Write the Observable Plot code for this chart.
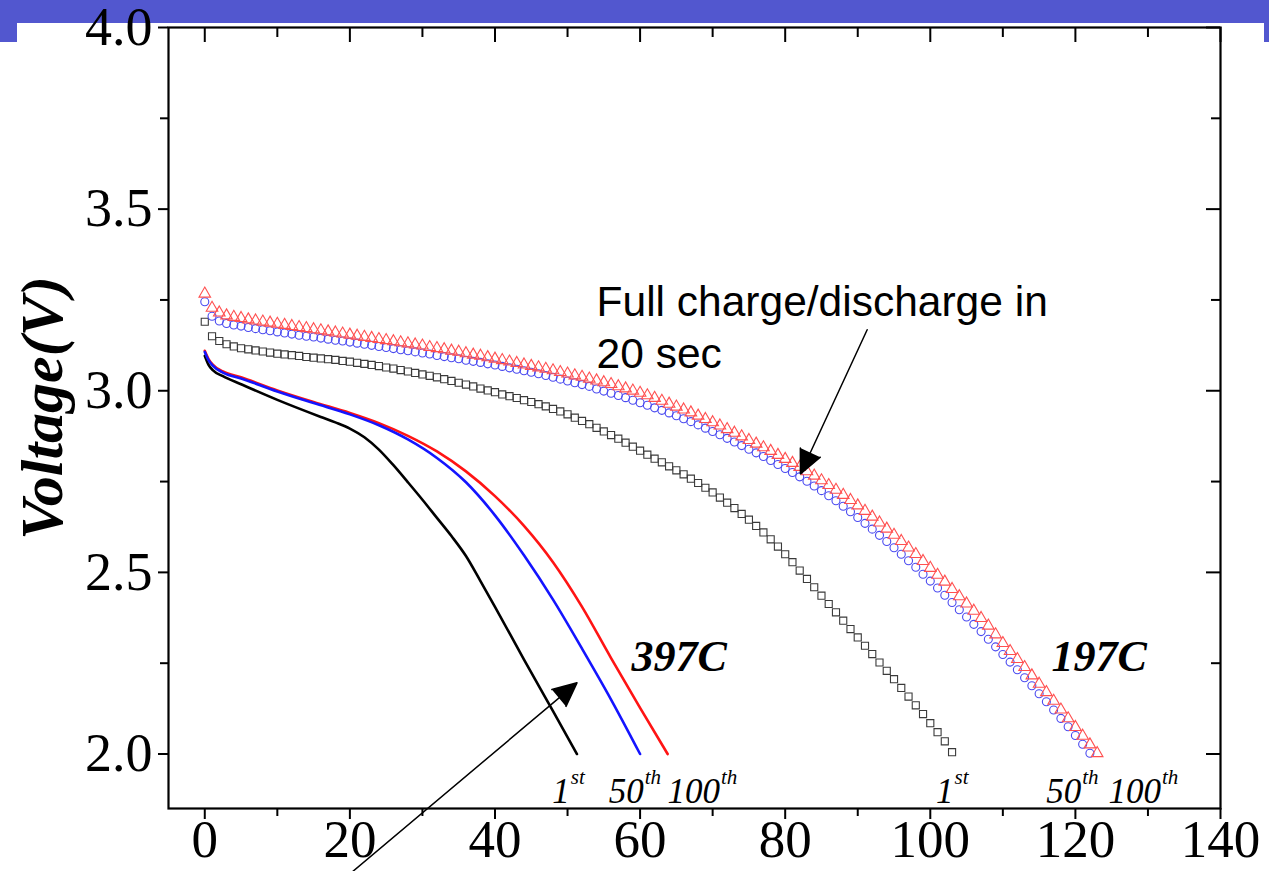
<!DOCTYPE html>
<html><head><meta charset="utf-8">
<script src="https://cdn.jsdelivr.net/npm/d3@7"></script>
<script src="https://cdn.jsdelivr.net/npm/@observablehq/plot@0.6"></script>
<style>
html,body{margin:0;padding:0;background:#fff;}
#wrap{position:relative;width:1269px;height:871px;overflow:hidden;background:#fff;}
.band{position:absolute;background:#5257cf;}
#chart{position:absolute;left:0;top:0;}
</style></head><body>
<div id="wrap">
<div class="band" style="left:0;top:0;width:1269px;height:23px"></div>
<div class="band" style="left:0;top:0;width:17px;height:42px"></div>
<div class="band" style="left:1264px;top:0;width:5px;height:42px"></div>
<div id="chart"></div>
</div>
<script>
// ---- tick values ----
const xMajor = [0, 20, 40, 60, 80, 100, 120, 140];
const xMinor = [10, 30, 50, 70, 90, 110, 130];
const yMajor = [2.0, 2.5, 3.0, 3.5, 4.0];
const yMinor = [2.25, 2.75, 3.25, 3.75];

// ---- 397C (lines) ----
const x397_1st = [0, 0.5, 1.1, 2.5, 5, 10, 16, 18, 20, 22, 24, 26, 28, 30, 32, 34, 36, 38, 40, 44, 48, 51.3];
const y397_1st = [3.096, 3.072, 3.057, 3.040, 3.018, 2.975, 2.928, 2.913, 2.896, 2.872, 2.838, 2.795, 2.748, 2.700, 2.650, 2.600, 2.545, 2.476, 2.405, 2.260, 2.118, 2.0];
const x397_50th = [0, 0.5, 1.1, 2.5, 5, 10, 15, 20, 24, 28, 32, 36, 40, 44, 48, 52, 56, 60];
const y397_50th = [3.107, 3.085, 3.069, 3.050, 3.034, 2.998, 2.966, 2.935, 2.905, 2.866, 2.815, 2.748, 2.657, 2.547, 2.425, 2.290, 2.150, 2.0];
const x397_100th = [0, 0.5, 1.1, 2.5, 5, 10, 15, 20, 24, 28, 32, 36, 40, 44, 48, 52, 56, 60, 63.8];
const y397_100th = [3.110, 3.088, 3.072, 3.053, 3.037, 3.001, 2.969, 2.939, 2.911, 2.876, 2.833, 2.778, 2.710, 2.628, 2.528, 2.405, 2.264, 2.127, 2.0];

// ---- 197C (markers), one reading per unit of x ----
const t197 = [0,1,2,3,4,5,6,7,8,9,10,11,12,13,14,15,16,17,18,19,20,21,22,23,24,25,26,27,28,29,30,31,32,33,34,35,36,37,38,39,40,41,42,43,44,45,46,47,48,49,50,51,52,53,54,55,56,57,58,59,60,61,62,63,64,65,66,67,68,69,70,71,72,73,74,75,76,77,78,79,80,81,82,83,84,85,86,87,88,89,90,91,92,93,94,95,96,97,98,99,100,101,102,103,104,105,106,107,108,109,110,111,112,113,114,115,116,117,118,119,120,121,122,123];
const v197_1st = [3.19,3.15,3.137,3.128,3.122,3.117,3.114,3.111,3.108,3.105,3.102,3.100,3.098,3.096,3.093,3.091,3.089,3.087,3.085,3.082,3.080,3.077,3.074,3.071,3.068,3.064,3.061,3.057,3.053,3.049,3.045,3.041,3.037,3.032,3.027,3.022,3.017,3.012,3.006,3.001,2.996,2.990,2.985,2.980,2.974,2.969,2.963,2.957,2.950,2.943,2.935,2.926,2.917,2.908,2.898,2.888,2.878,2.868,2.857,2.846,2.835,2.824,2.813,2.803,2.792,2.781,2.770,2.758,2.746,2.733,2.720,2.706,2.692,2.677,2.661,2.645,2.628,2.610,2.591,2.571,2.550,2.528,2.505,2.482,2.459,2.436,2.413,2.390,2.367,2.344,2.321,2.298,2.275,2.252,2.229,2.206,2.182,2.158,2.134,2.110,2.085,2.060,2.035,2.005];
const v197_50th = [3.245,3.205,3.192,3.185,3.181,3.178,3.174,3.171,3.168,3.165,3.162,3.159,3.156,3.153,3.150,3.148,3.145,3.142,3.139,3.137,3.134,3.131,3.128,3.125,3.122,3.119,3.116,3.113,3.110,3.107,3.104,3.101,3.097,3.094,3.091,3.088,3.084,3.081,3.078,3.074,3.071,3.067,3.063,3.059,3.055,3.051,3.047,3.042,3.037,3.032,3.027,3.022,3.017,3.012,3.005,2.999,2.993,2.987,2.981,2.974,2.967,2.960,2.953,2.946,2.939,2.931,2.923,2.915,2.906,2.897,2.888,2.879,2.869,2.859,2.849,2.839,2.829,2.819,2.808,2.797,2.786,2.775,2.763,2.751,2.738,2.725,2.711,2.697,2.682,2.667,2.651,2.635,2.619,2.602,2.585,2.568,2.550,2.532,2.514,2.495,2.476,2.457,2.437,2.417,2.397,2.377,2.357,2.337,2.316,2.295,2.274,2.253,2.232,2.210,2.188,2.166,2.144,2.121,2.098,2.075,2.051,2.027,2.002];
const v197_100th = [3.267,3.228,3.215,3.207,3.203,3.200,3.196,3.193,3.190,3.187,3.184,3.181,3.178,3.175,3.172,3.169,3.166,3.163,3.160,3.157,3.154,3.151,3.148,3.145,3.142,3.139,3.136,3.133,3.130,3.127,3.124,3.120,3.117,3.114,3.110,3.107,3.103,3.099,3.096,3.092,3.088,3.084,3.080,3.076,3.072,3.068,3.064,3.060,3.056,3.051,3.047,3.042,3.038,3.033,3.028,3.023,3.018,3.012,3.006,3.000,2.994,2.987,2.980,2.972,2.964,2.956,2.948,2.940,2.931,2.922,2.913,2.904,2.894,2.884,2.874,2.864,2.854,2.844,2.834,2.823,2.812,2.801,2.790,2.778,2.766,2.753,2.740,2.727,2.713,2.699,2.684,2.669,2.653,2.637,2.620,2.603,2.586,2.568,2.550,2.531,2.512,2.493,2.474,2.454,2.434,2.414,2.394,2.374,2.353,2.329,2.305,2.283,2.261,2.239,2.216,2.193,2.170,2.146,2.122,2.098,2.074,2.050,2.026,2.002];

// ---- annotation texts ----
const cycleBase = ["1", "50", "100", "1", "50", "100"];
const cycleSup = ["st", "th", "th", "st", "th", "th"];
const cycleX = [50.3, 60.5, 71.0, 103.2, 120.8, 131.8];
const rateLabels = ["397C", "197C"];
const rateX = [58.8, 116.7];
const noteText = "Full charge/discharge in\n20 sec";
const yLabel = "Voltage(V)";
const arrowsData = [
  {x1: 91.3, y1: 3.168, x2: 82.1, y2: 2.771},
  {x1: 20.3, y1: 1.675, x2: 51.3, y2: 2.196}
];

// ---- build tables ----
const pairs = (xs, ys, s) => ys.map((v, i) => ({x: xs[i], y: v, s}));
const lines397 = [
  ...pairs(x397_1st, y397_1st, "1st"),
  ...pairs(x397_100th, y397_100th, "100th"),
  ...pairs(x397_50th, y397_50th, "50th")
];
const sq = pairs(t197, v197_1st, "1st");
const ci = pairs(t197, v197_50th, "50th");
const tr = pairs(t197, v197_100th, "100th");
const cycles = cycleBase.map((b, i) => ({x: cycleX[i], y: 1.865, b, s: cycleSup[i]}));
const rates = rateLabels.map((t, i) => ({x: rateX[i], y: 2.229, t}));

const W = 1269, H = 871, mL = 168, mR = 49, mT = 27, mB = 63;
const pw = W - mL - mR, ph = H - mT - mB;
const serif = "'Liberation Serif','Times New Roman',serif";
const sans = "'Liberation Sans',Arial,sans-serif";

const chart = Plot.plot({
  width: W, height: H,
  marginLeft: mL, marginRight: mR, marginTop: mT, marginBottom: mB,
  x: {domain: [-5, 140]},
  y: {domain: [1.85, 4.0]},
  style: {background: "transparent", fontFamily: serif, color: "black", overflow: "visible"},
  marks: [
    // axes
    Plot.axisX(xMajor, {anchor: "bottom", tickSize: 11, tickPadding: 0, fontSize: 53, label: null, tickFormat: d => String(d), strokeWidth: 2}),
    Plot.axisX(xMinor, {anchor: "bottom", tickSize: 8, label: null, tickFormat: () => "", strokeWidth: 2}),
    Plot.axisY(yMajor, {anchor: "left", tickSize: 10, tickPadding: 6, fontSize: 54, label: null, tickFormat: d3.format(".1f"), strokeWidth: 2}),
    Plot.axisY(yMinor, {anchor: "left", tickSize: 8, label: null, tickFormat: () => "", strokeWidth: 2}),
    Plot.tickX(xMajor, {x: d => d, insetBottom: ph - 15, strokeWidth: 2}),
    Plot.tickX(xMinor, {x: d => d, insetBottom: ph - 10, strokeWidth: 2}),
    Plot.tickY(yMajor, {y: d => d, insetLeft: pw - 14, strokeWidth: 2}),
    Plot.tickY(yMinor, {y: d => d, insetLeft: pw - 9, strokeWidth: 2}),
    Plot.frame({strokeWidth: 2.2}),
    // 197C markers
    Plot.dot(sq, {x: "x", y: "y", symbol: "square", r: 4, stroke: "#3a3a3a", fill: "none", strokeWidth: 1.1}),
    Plot.dot(ci, {x: "x", y: "y", symbol: "circle", r: 4, stroke: "#4a4af0", fill: "none", strokeWidth: 1.1}),
    Plot.dot(tr, {x: "x", y: "y", symbol: "triangle", r: 4.3, stroke: "#ff5050", fill: "none", strokeWidth: 1.1}),
    // 397C lines
    Plot.line(lines397, {x: "x", y: "y", z: "s", stroke: d => d.s === "1st" ? "#000" : d.s === "50th" ? "#1414ff" : "#ff1414", curve: "monotone-x", strokeWidth: 2.6}),
    // labels
    Plot.text(cycles, {x: "x", y: "y", text: "b", textAnchor: "end", lineAnchor: "bottom", fontSize: 35, fontStyle: "italic"}),
    Plot.text(cycles, {x: "x", y: "y", text: "s", textAnchor: "start", lineAnchor: "bottom", fontSize: 21, fontStyle: "italic", dy: -19, dx: 1}),
    Plot.text(rates, {x: "x", y: "y", text: "t", textAnchor: "start", lineAnchor: "bottom", fontSize: 44, fontStyle: "italic", fontWeight: "bold"}),
    Plot.text([yLabel], {frameAnchor: "left", dx: -126, dy: -10, rotate: -90, textAnchor: "middle", fontSize: 60, fontStyle: "italic", fontWeight: "bold"}),
    Plot.text([noteText], {x: 54.0, y: 3.063, text: d => d, textAnchor: "start", lineAnchor: "bottom", lineHeight: 1.22, fontSize: 42.5, fontFamily: sans}),
    // annotation arrows
    Plot.arrow(arrowsData, {x1: "x1", y1: "y1", x2: "x2", y2: "y2", stroke: "black", fill: "black", strokeWidth: 1.5, headLength: 26, headAngle: 50})
  ]
});
document.getElementById("chart").appendChild(chart);
</script>
</body></html>
